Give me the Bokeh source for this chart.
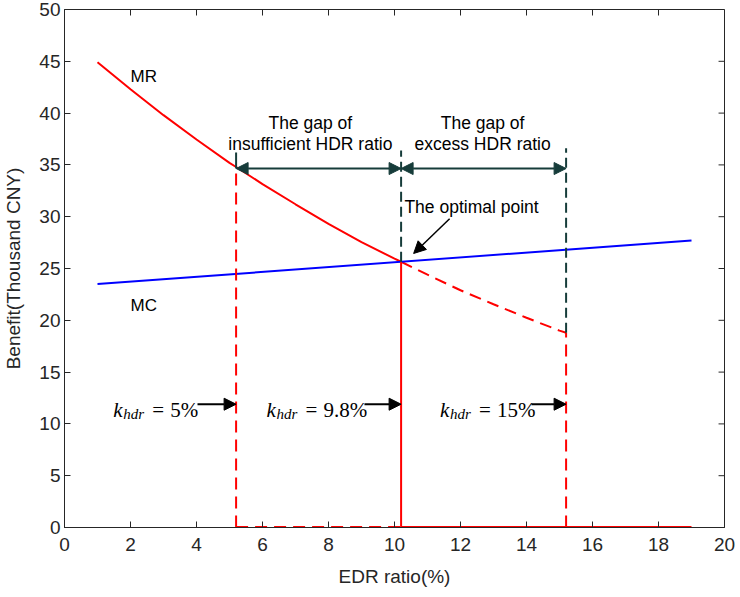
from bokeh.plotting import figure
from bokeh.models import Range1d, FixedTicker, Arrow, NormalHead, ColumnDataSource
from bokeh.core.properties import value
from bokeh.embed import file_html
from bokeh.resources import INLINE

# ---------------- data ----------------
# MR curve (solid part up to optimal point, dashed beyond)
mr_x_solid = [1, 2, 3, 4, 5, 5.2, 6, 7, 8, 9, 10, 10.2]
mr_y_solid = [44.9, 42.3, 39.8, 37.45, 35.2, 34.8, 33.15, 31.2, 29.3, 27.55, 25.95, 25.65]
mr_x_dash = [10.2, 11, 12, 13, 14, 15, 15.2]
mr_y_dash = [25.65, 24.4, 22.9, 21.55, 20.25, 19.0, 18.8]

# MC line
mc_x = [1, 19]
mc_y = [23.5, 27.7]

# key EDR ratios: lower gap, optimal, upper gap
edr_low, edr_opt, edr_high = 5.2, 10.2, 15.2
mr_at_low, mr_at_opt, mr_at_high = 34.8, 25.65, 18.8
edr_end = 19.0

# gap annotations
gap_arrow_y = 34.65
gap_top = [36.2, 36.4, 36.6]

# k_hdr labels
khdr_values = ["5%", "9.8%", "15%"]
khdr_text_x = [1.48, 6.12, 11.38]
khdr_tail_x = [4.03, 9.09, 14.15]
khdr_head_x = [edr_low, edr_opt, edr_high]
khdr_y = 11.9

x_ticks = list(range(0, 21, 2))
y_ticks = list(range(0, 51, 5))
x_min, x_max, y_min, y_max = 0, 20, 0, 50
tick_len_x, tick_len_y = 0.18, 0.58   # ~6 px inward ticks on the box

RED = "#ff0000"
BLUE = "#0000ff"
TEAL = "#163c3a"
AX = "#262626"
SANS = "Liberation Sans"
SERIF = "Liberation Serif"

p = figure(frame_width=660, frame_height=518, x_range=Range1d(x_min, x_max), y_range=Range1d(y_min, y_max),
           output_backend="svg", toolbar_location=None,
           min_border_left=63, min_border_right=17, min_border_top=9, min_border_bottom=70)
p.grid.visible = False
p.outline_line_color = AX
p.background_fill_color = "white"
p.border_fill_color = "white"

xa = p.xaxis[0]
ya = p.yaxis[0]
xa.ticker = FixedTicker(ticks=x_ticks)
ya.ticker = FixedTicker(ticks=y_ticks)
for ax in (xa, ya):
    ax.major_tick_in = 6
    ax.major_tick_out = 0
    ax.minor_tick_line_color = None
    ax.axis_line_color = AX
    ax.major_tick_line_color = AX
    ax.major_label_text_color = AX
    ax.major_label_text_font = SANS
    ax.major_label_text_font_size = "19px"
    ax.axis_label_text_font = SANS
    ax.axis_label_text_font_size = "19px"
    ax.axis_label_text_font_style = "normal"
    ax.axis_label_text_color = AX
xa.axis_label = "EDR ratio(%)"
ya.axis_label = "Benefit(Thousand CNY)"
xa.major_label_standoff = 10
xa.axis_label_standoff = 12
ya.major_label_standoff = 4
ya.axis_label_standoff = 12

# inward ticks on top and right edges (box style)
p.segment(x0=x_ticks, y0=[y_max] * len(x_ticks), x1=x_ticks, y1=[y_max - tick_len_y] * len(x_ticks),
          line_color=AX, line_width=1)
p.segment(x0=[x_max] * len(y_ticks), y0=y_ticks, x1=[x_max - tick_len_x] * len(y_ticks), y1=y_ticks,
          line_color=AX, line_width=1)

# ---- curves ----
p.line(mr_x_solid, mr_y_solid, line_color=RED, line_width=2)
p.line(mr_x_dash, mr_y_dash, line_color=RED, line_width=2, line_dash="12 7")
p.line(mc_x, mc_y, line_color=BLUE, line_width=2)

# red verticals and baseline
p.segment(x0=[edr_low, edr_high], y0=[0, 0], x1=[edr_low, edr_high], y1=[mr_at_low, mr_at_high],
          line_color=RED, line_width=2, line_dash="12 7")
p.segment(x0=[edr_opt], y0=[0], x1=[edr_opt], y1=[mr_at_opt], line_color=RED, line_width=2)
p.segment(x0=[edr_low], y0=[0], x1=[edr_opt], y1=[0], line_color=RED, line_width=3, line_dash="12 7")
p.segment(x0=[edr_opt], y0=[0], x1=[edr_end], y1=[0], line_color=RED, line_width=3)

# teal gap markers
p.segment(x0=[edr_low], y0=[gap_arrow_y], x1=[edr_low], y1=[gap_top[0]], line_color=TEAL, line_width=2)
p.segment(x0=[edr_opt, edr_high], y0=[mr_at_opt, mr_at_high], x1=[edr_opt, edr_high],
          y1=[gap_top[1], gap_top[2]], line_color=TEAL, line_width=2, line_dash="10 5")
for a, b in [(edr_low, edr_opt), (edr_opt, edr_high)]:
    p.add_layout(Arrow(x_start=a, y_start=gap_arrow_y, x_end=b, y_end=gap_arrow_y,
                       line_color=TEAL, line_width=2,
                       start=NormalHead(size=12, fill_color=TEAL, line_color=TEAL),
                       end=NormalHead(size=12, fill_color=TEAL, line_color=TEAL)))

# gap texts
p.text(x=[7.45, 7.45, 12.67, 12.67], y=[39.03, 37.04, 39.03, 37.04],
       text=["The gap of", "insufficient HDR ratio", "The gap of", "excess HDR ratio"],
       text_font=value(SANS), text_font_size="17.5px", text_color="black",
       text_align="center", text_baseline="middle")

# optimal point
p.text(x=[10.3], y=[30.9], text=["The optimal point"], text_font=value(SANS),
       text_font_size="17.5px", text_color="black", text_align="left", text_baseline="middle")
p.add_layout(Arrow(x_start=11.67, y_start=29.8, x_end=10.58, y_end=26.45, line_color="black",
                   line_width=1.5, end=NormalHead(size=12, fill_color="black", line_color="black")))

# MR / MC labels
p.text(x=[2.0, 2.0], y=[43.5, 21.4], text=["MR", "MC"], text_font=value(SANS),
       text_font_size="17px", text_color="black", text_align="left", text_baseline="middle")

# k_hdr labels
src = ColumnDataSource(dict(x=khdr_text_x, y=[khdr_y] * 3, v=khdr_values,
                            k=["k"] * 3, sub=["hdr"] * 3, eq=["="] * 3))
p.text(x="x", y="y", text="k", source=src, text_font=value(SERIF), text_font_style="italic",
       text_font_size="21px", text_baseline="alphabetic", y_offset=6, text_color="black")
p.text(x="x", y="y", text="sub", source=src, text_font=value(SERIF), text_font_style="italic",
       text_font_size="15px", text_baseline="alphabetic", x_offset=10, y_offset=10, text_color="black")
p.text(x="x", y="y", text="eq", source=src, text_font=value(SERIF),
       text_font_size="21px", text_baseline="alphabetic", x_offset=39, y_offset=6, text_color="black")
p.text(x="x", y="y", text="v", source=src, text_font=value(SERIF),
       text_font_size="21px", text_baseline="alphabetic", x_offset=57, y_offset=6, text_color="black")
for t, h in zip(khdr_tail_x, khdr_head_x):
    p.add_layout(Arrow(x_start=t, y_start=khdr_y, x_end=h, y_end=khdr_y, line_color="black",
                       line_width=2, end=NormalHead(size=12, fill_color="black", line_color="black")))

open("out.html", "w").write(file_html(p, INLINE))
